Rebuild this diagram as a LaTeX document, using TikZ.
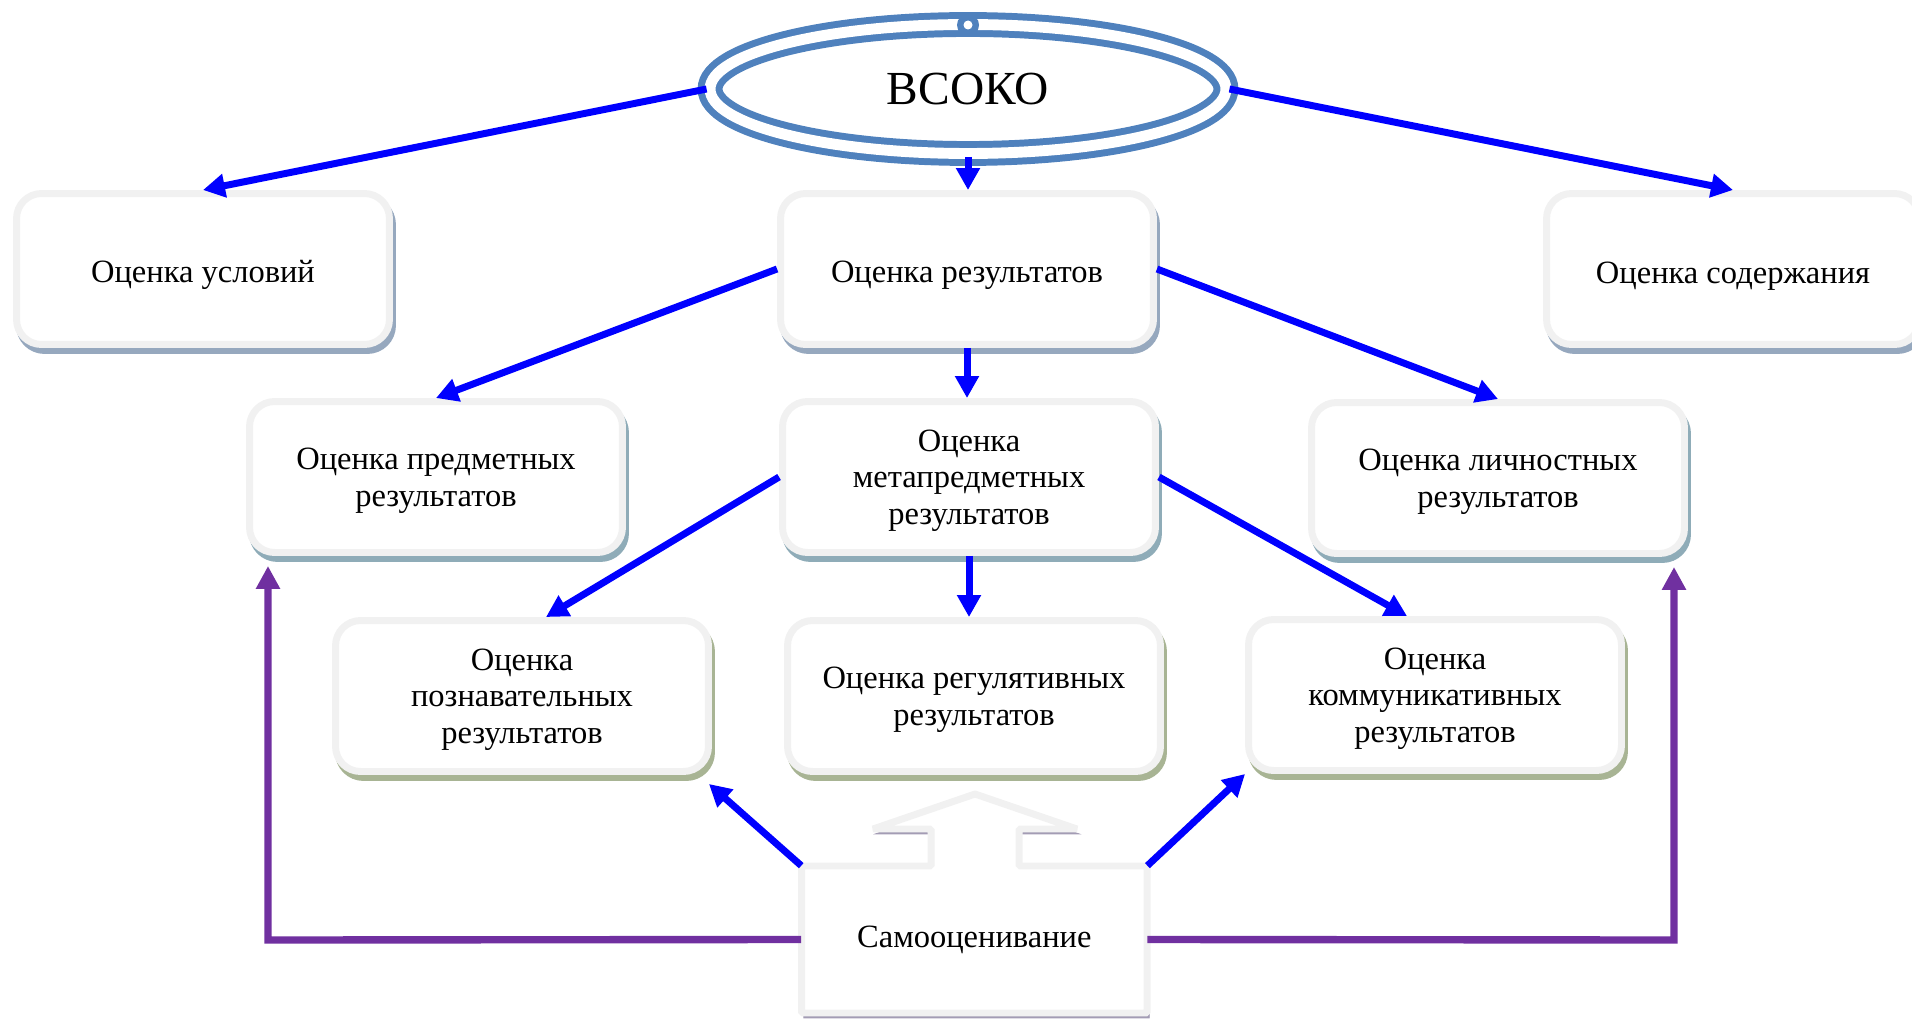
\documentclass[tikz,border=0pt]{standalone}
\usepackage{fontspec}
\setmainfont{Liberation Serif}
\usetikzlibrary{arrows.meta,shapes.geometric}
\definecolor{bordergray}{RGB}{241,241,241}
\definecolor{shA}{RGB}{150,168,190}
\definecolor{shB}{RGB}{143,172,184}
\definecolor{shC}{RGB}{168,180,148}
\definecolor{shD}{RGB}{163,156,180}
\definecolor{ellblue}{RGB}{79,129,189}
\definecolor{arrblue}{RGB}{0,0,255}
\definecolor{arrpurple}{RGB}{112,48,160}
\begin{document}
\begin{tikzpicture}[x=0.02cm,y=-0.02cm,
  box/.style={rounded corners=0.5cm, draw=bordergray, line width=3.97pt, fill=white,
    minimum width=7.46cm, minimum height=3.02cm, align=center,
    font=\fontsize{18.5pt}{20.8pt}\selectfont, inner sep=2pt,
    preaction={draw=#1, fill=#1, transform canvas={shift={(1.7pt,-3.4pt)}}}},
  oneline/.style={text height=19.9pt},
  multiline/.style={text depth=-3.4pt},
  conn/.style={draw=arrblue, line width=3.97pt, -{Triangle[length=12.5pt,width=13pt]}},
  pconn/.style={draw=arrpurple, line width=4.2pt, -{Triangle[length=13pt,width=13pt]}},
]
\useasboundingbox (0,0) rectangle (1912,1020);
\clip (0,0) rectangle (1912,1020);

% ellipse
\node[ellipse, draw=ellblue, line width=3.97pt, double=white, double distance=6.2pt,
  minimum width=10.32cm, minimum height=2.58cm, inner sep=0pt,
  font=\fontsize{27pt}{30pt}\selectfont] (vsoko) at (968,89) {ВСОКО};
\fill[ellblue] (968,25) circle[radius=0.22cm];
\fill[white] (968,25) circle[radius=0.09cm];

% row 1
\node[box=shA, oneline] (usl) at (203,269) {Оценка условий};
\node[box=shA, oneline] (res) at (967,269) {Оценка результатов};
\node[box=shA, oneline] (sod) at (1733,269) {Оценка содержания};

% row 2
\node[box=shB, multiline] (pred) at (436,477) {Оценка предметных\\результатов};
\node[box=shB, multiline] (meta) at (969,477) {Оценка\\метапредметных\\результатов};
\node[box=shB, multiline] (lich) at (1498,478) {Оценка личностных\\результатов};

% row 3
\node[box=shC, multiline] (poz) at (522,696) {Оценка\\познавательных\\результатов};
\node[box=shC, multiline] (reg) at (974,696) {Оценка регулятивных\\результатов};
\node[box=shC, multiline] (kom) at (1435,695) {Оценка\\коммуникативных\\результатов};

% self-assessment callout
\draw[draw=bordergray, line width=3.97pt, fill=white, line join=bevel,
  preaction={draw=shD, fill=shD, transform canvas={shift={(1.3pt,-2.8pt)}}}]
  (801.5,866) -- (931,866) -- (931,829) -- (873,829) -- (975,794) -- (1077,829)
  -- (1019,829) -- (1019,866) -- (1147,866) -- (1147,1013) -- (801.5,1013) -- cycle;
\node[minimum width=6.91cm, minimum height=2.94cm, inner sep=0pt,
  font=\fontsize{18.5pt}{20.8pt}\selectfont] (self) at (974.3,939.5) {Самооценивание};

% blue connectors
\draw[conn] (vsoko.west) -- (usl.north);
\draw[conn] (vsoko.east) -- (sod.north);
\draw[conn] (vsoko.south) -- (vsoko.south |- res.north);
\draw[conn] (res.west) -- (pred.north);
\draw[conn] (res.south) -- (res.south |- meta.north);
\draw[conn] (res.east) -- (lich.north);
\draw[conn] (meta.west) -- ([xshift=0.48cm]poz.north);
\draw[conn] (meta.south) -- (meta.south |- reg.north);
\draw[conn] (meta.east) -- ([xshift=-0.56cm]kom.north);
\draw[conn] (self.north west) -- ([xshift=-0.06cm,yshift=-0.18cm]poz.south east);
\draw[conn] (self.north east) -- (kom.south west);

% purple connectors
\coordinate (pl) at (268,940);
\coordinate (pr) at (1674,940);
\draw[pconn, shorten >=0.2cm] (self.west) -- (pl) -- (pl |- pred.south);
\draw[pconn, shorten >=0.2cm] (self.east) -- (pr) -- (pr |- lich.south);
\end{tikzpicture}
\end{document}
